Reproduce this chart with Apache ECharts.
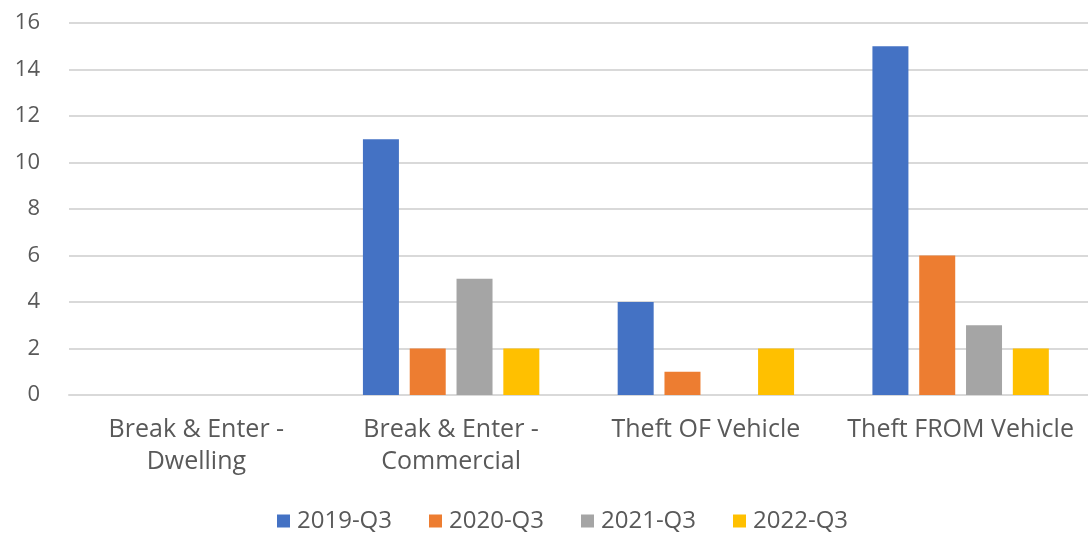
<!DOCTYPE html>
<html><head><meta charset="utf-8">
<script src="https://cdn.jsdelivr.net/npm/echarts@6/dist/echarts.min.js"></script>
<style>html,body{margin:0;padding:0;background:#fff}#c{width:1088px;height:533px}</style>
</head><body><div id="c"></div>
<script>
const categories = ['Break & Enter -\nDwelling', 'Break & Enter -\nCommercial', 'Theft OF Vehicle', 'Theft FROM Vehicle'];
const seriesNames = ['2019-Q3', '2020-Q3', '2021-Q3', '2022-Q3'];
const v2019 = [0, 11, 4, 15];
const v2020 = [0, 2, 1, 6];
const v2021 = [0, 5, 0, 3];
const v2022 = [0, 2, 2, 2];
const yTicks = [0, 2, 4, 6, 8, 10, 12, 14, 16];
const colors = ['#4472C4', '#ED7D31', '#A5A5A5', '#FFC000'];
const values = [v2019, v2020, v2021, v2022];
const font = 'Open Sans';
const chart = echarts.init(document.getElementById('c'), null, {renderer: 'canvas'});
chart.setOption({
  animation: false,
  color: colors,
  grid: {left: 69, right: 0, top: 23, bottom: 138, containLabel: false},
  legend: {
    top: 508, left: 277, itemWidth: 13, itemHeight: 13, itemGap: 37, padding: 0,
    icon: 'rect',
    textStyle: {fontFamily: font, fontSize: 24, color: '#595959', lineHeight: 26, padding: [0, 0, 0, 2]},
    data: seriesNames
  },
  xAxis: {
    type: 'category', data: categories,
    axisLine: {lineStyle: {color: '#d9d9d9', width: 2}},
    axisTick: {show: false},
    axisLabel: {fontFamily: font, fontSize: 25, color: '#595959', margin: 19, lineHeight: 32, interval: 0}
  },
  yAxis: {
    type: 'value', min: yTicks[0], max: yTicks[yTicks.length - 1], interval: 2,
    axisLine: {show: false}, axisTick: {show: false},
    splitLine: {lineStyle: {color: '#d9d9d9', width: 2}},
    axisLabel: {fontFamily: font, fontSize: 22, color: '#595959', margin: 29}
  },
  series: seriesNames.map((n, i) => ({
    name: n, type: 'bar', data: values[i], barWidth: 36, barGap: '30%'
  }))
});
</script></body></html>
